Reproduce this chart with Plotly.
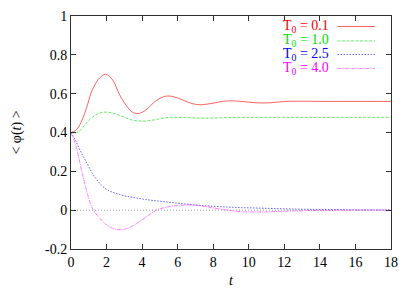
import plotly.graph_objects as go

t = [0, 0.25, 0.5, 0.85, 1.2, 1.6, 1.95, 2.35, 2.7, 3.1, 3.45, 3.8, 4.2, 4.8,
     5.4, 6.0, 6.6, 7.2, 7.8, 8.8, 9.6, 10.4, 11.2, 12, 13, 14, 16, 18]

phi_T01 = [0.40, 0.41, 0.44, 0.52, 0.62, 0.68, 0.70, 0.67, 0.60, 0.54, 0.505, 0.498, 0.515, 0.565,
           0.588, 0.578, 0.555, 0.543, 0.548, 0.563, 0.560, 0.553, 0.553, 0.560, 0.561, 0.560, 0.560, 0.560]
phi_T10 = [0.40, 0.398, 0.41, 0.447, 0.478, 0.50, 0.505, 0.50, 0.49, 0.475, 0.464, 0.459, 0.459, 0.467,
           0.477, 0.478, 0.476, 0.474, 0.474, 0.477, 0.478, 0.478, 0.478, 0.478, 0.478, 0.478, 0.478, 0.478]
phi_T25 = [0.40, 0.36, 0.31, 0.25, 0.19, 0.14, 0.11, 0.092, 0.082, 0.072, 0.066, 0.061, 0.055, 0.048,
           0.042, 0.036, 0.030, 0.025, 0.021, 0.016, 0.013, 0.011, 0.009, 0.007, 0.005, 0.004, 0.002, 0.001]
phi_T40 = [0.40, 0.34, 0.245, 0.11, 0.01, -0.04, -0.072, -0.094, -0.101, -0.096, -0.082, -0.062, -0.037, 0.0,
           0.016, 0.024, 0.027, 0.024, 0.014, 0.0, -0.008, -0.009, -0.008, -0.005, -0.003, -0.001, 0.0, 0.0]

labels = ["T<sub>0</sub> = 0.1", "T<sub>0</sub> = 1.0", "T<sub>0</sub> = 2.5", "T<sub>0</sub> = 4.0"]
series = [phi_T01, phi_T10, phi_T25, phi_T40]
colors = ["#ff0000", "#00e000", "#0000ff", "#ff00ff"]
line_colors = ["rgba(255,60,60,0.8)", "rgba(60,230,60,0.8)", "rgba(60,60,255,0.8)", "rgba(255,80,255,0.75)"]
dashes = ["solid", "3px,1.5px", "1.5px,1.5px", "4px,1px,1px,1px"]

FONT = "Liberation Serif, Times New Roman, serif"
fig = go.Figure()
for ys, lc, d, lab in zip(series, line_colors, dashes, labels):
    fig.add_trace(go.Scatter(x=t, y=ys, mode="lines",
                             line=dict(color=lc, width=1, dash=d, shape="spline", smoothing=1.0),
                             name=lab, showlegend=False))

# zero axis
fig.add_shape(type="line", xref="x", yref="y", x0=0, x1=18, y0=0, y1=0,
              line=dict(color="#a0a0a0", width=1, dash="1px,2px"), layer="below")

# legend (gnuplot style: text then sample)
leg_y = [0.955, 0.893, 0.835, 0.775]
for lab, c, lc, d, yy in zip(labels, colors, line_colors, dashes, leg_y):
    fig.add_annotation(xref="paper", yref="paper", x=0.81, y=yy, text=lab, showarrow=False,
                       xanchor="right", yanchor="middle", borderpad=0,
                       font=dict(family=FONT, size=14, color=c))
    fig.add_shape(type="line", xref="paper", yref="paper", x0=0.833, x1=0.95, y0=yy, y1=yy,
                  line=dict(color=lc, width=1, dash=d))

axis_common = dict(showline=True, linecolor="#303030", linewidth=1, mirror="ticks", ticks="inside",
                   ticklen=5, tickcolor="#303030", showgrid=False, zeroline=False, automargin=False,
                   tickfont=dict(family=FONT, size=14, color="black"))
fig.update_xaxes(range=[0, 18], tickvals=list(range(0, 19, 2)),
                 title=dict(text="<i>t</i>", font=dict(family=FONT, size=14, color="black"), standoff=6),
                 **axis_common)
fig.update_yaxes(range=[-0.2, 1.0], tickvals=[-0.2, 0, 0.2, 0.4, 0.6, 0.8, 1.0],
                 ticktext=["-0.2", "0", "0.2", "0.4", "0.6", "0.8", "1"],
                 title=dict(text="< φ(<i>t</i>) >", font=dict(family=FONT, size=14, color="black"), standoff=20),
                 **axis_common)
# page body has an 8px default margin: size the figure so the plot area lands where the reference has it
fig.update_layout(width=407, height=283, margin=dict(l=63, r=24, t=8, b=42),
                  paper_bgcolor="white", plot_bgcolor="white", showlegend=False)
fig.write_html("out.html")
